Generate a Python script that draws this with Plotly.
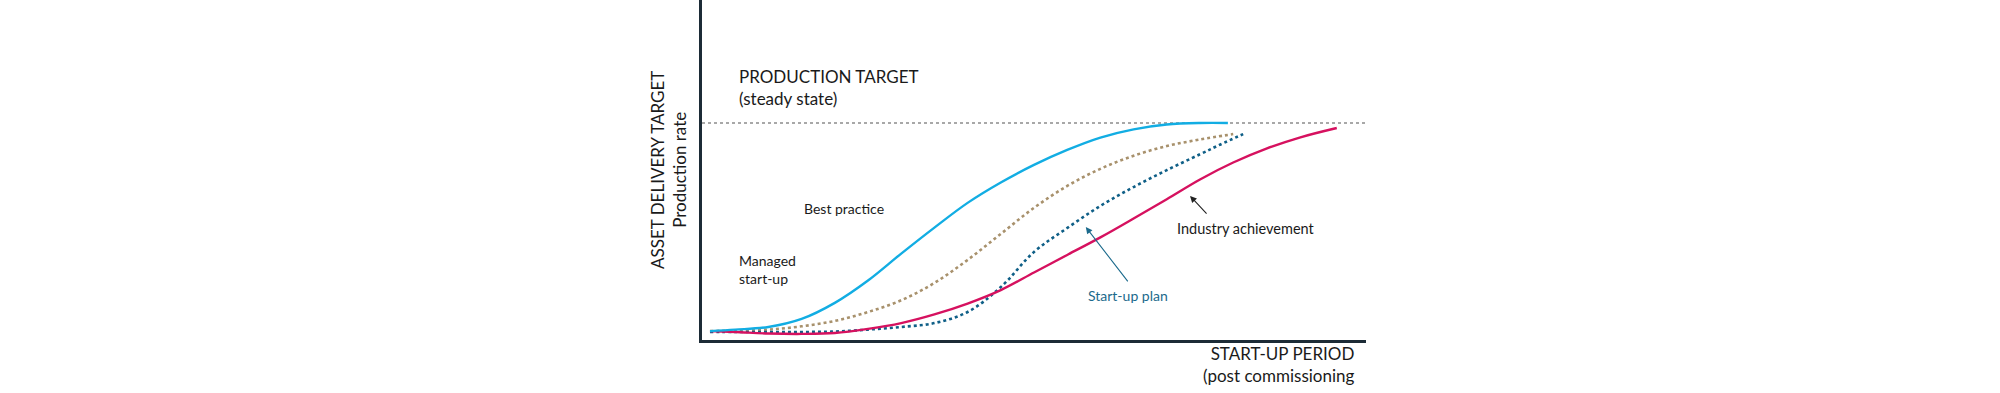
import plotly.graph_objects as go

# ---- data (start-up period in arbitrary months, production rate in % of target) ----
target_x = [0, 100]
target_y = [100, 100]

best_x = [1.2, 5, 10, 15, 20, 25, 30, 35, 40, 45, 50, 55, 60, 65, 70, 75, 79.2]
best_y = [4.1, 4.8, 6.0, 9.7, 17.1, 27.4, 39.8, 51.8, 63.2, 72.6, 80.7, 87.6, 93.3, 97.1, 99.3, 100.0, 100.0]

managed_x = [1.2, 5, 10, 15, 20, 25, 30, 35, 40, 45, 50, 55, 60, 65, 70, 75, 80]
managed_y = [4.1, 4.4, 4.8, 6.3, 8.8, 12.9, 18.3, 26.3, 36.9, 48.9, 60.9, 71.0, 78.9, 84.9, 89.4, 92.4, 94.9]

plan_x = [1.2, 5, 10, 15, 20, 25, 30, 35, 40, 45, 50, 55, 60, 65, 70, 75, 78, 81.5]
plan_y = [3.7, 3.7, 3.7, 3.7, 3.9, 4.8, 6.0, 7.8, 12.9, 24.4, 40.6, 51.6, 61.8, 70.5, 78.3, 85.6, 90.0, 94.9]

industry_x = [1.2, 5, 10, 15, 20, 25, 30, 35, 40, 45, 50, 55, 60, 65, 70, 75, 80, 85, 90, 95.6]
industry_y = [4.1, 3.7, 3.0, 2.8, 3.2, 5.1, 7.8, 11.8, 16.8, 23.0, 31.1, 39.2, 47.3, 56.0, 64.9, 74.0, 81.8, 88.2, 93.3, 97.7]

FONT = "Lato"
TXT = "#1a1a1a"

fig = go.Figure()
fig.add_trace(go.Scatter(x=target_x, y=target_y, mode="lines",
                         line=dict(color="#8c8c8c", width=1.6, dash="3px,3px"), hoverinfo="skip"))
fig.add_trace(go.Scatter(x=managed_x, y=managed_y, mode="lines", line_shape="spline",
                         line=dict(color="#a8916c", width=2.6, dash="3px,3px"), hoverinfo="skip"))
fig.add_trace(go.Scatter(x=plan_x, y=plan_y, mode="lines", line_shape="spline",
                         line=dict(color="#0f5f87", width=2.6, dash="3px,3px"), hoverinfo="skip"))
fig.add_trace(go.Scatter(x=industry_x, y=industry_y, mode="lines", line_shape="spline",
                         line=dict(color="#d6115f", width=2.4), hoverinfo="skip"))
fig.add_trace(go.Scatter(x=best_x, y=best_y, mode="lines", line_shape="spline",
                         line=dict(color="#12ade3", width=2.4), hoverinfo="skip"))

ann = []
ann.append(dict(x=5.3, y=116.4, xref="x", yref="y", text="PRODUCTION TARGET<br>(steady state)",
                showarrow=False, xanchor="left", yanchor="middle", align="left",
                font=dict(family=FONT, size=17, color=TXT)))
ann.append(dict(x=15.1, y=60.8, xref="x", yref="y", text="Best practice",
                showarrow=False, xanchor="left", yanchor="middle", align="left",
                font=dict(family=FONT, size=14, color=TXT)))
ann.append(dict(x=5.3, y=32.7, xref="x", yref="y", text="Managed<br>start-up",
                showarrow=False, xanchor="left", yanchor="middle", align="left",
                font=dict(family=FONT, size=14, color=TXT)))
ann.append(dict(x=57.8, y=20.7, xref="x", yref="y", text="Start-up plan",
                showarrow=False, xanchor="left", yanchor="middle", align="left",
                font=dict(family=FONT, size=14, color="#1b6a8c")))
ann.append(dict(x=71.2, y=51.6, xref="x", yref="y", text="Industry achievement",
                showarrow=False, xanchor="left", yanchor="middle", align="left",
                font=dict(family=FONT, size=14.5, color=TXT)))
# arrows
ann.append(dict(x=57.8, y=52.1, ax=64.3, ay=26.3, xref="x", yref="y", axref="x", ayref="y",
                text="", showarrow=True, arrowhead=2, arrowsize=1.2, arrowwidth=1.1, arrowcolor="#1b6a8c"))
ann.append(dict(x=73.5, y=66.4, ax=76.2, ay=57.6, xref="x", yref="y", axref="x", ayref="y",
                text="", showarrow=True, arrowhead=2, arrowsize=1.2, arrowwidth=1.1, arrowcolor="#222222"))
# axis titles
ann.append(dict(x=-0.0512, y=0.5, xref="paper", yref="paper", text="ASSET DELIVERY TARGET<br>Production rate",
                showarrow=False, textangle=-90, xanchor="center", yanchor="middle", align="center",
                font=dict(family=FONT, size=17, color=TXT)))
ann.append(dict(x=0.9864, y=-0.0735, xref="paper", yref="paper", text="START-UP PERIOD<br>(post commissioning",
                showarrow=False, xanchor="right", yanchor="middle", align="right",
                font=dict(family=FONT, size=17, color=TXT)))

fig.update_layout(
    width=2000, height=393,
    margin=dict(l=702, r=634, t=0, b=53),
    paper_bgcolor="white", plot_bgcolor="white",
    showlegend=False,
    annotations=ann,
    xaxis=dict(range=[0, 100], showgrid=False, zeroline=False, showticklabels=False, ticks="",
               showline=True, linecolor="#1c2b36", linewidth=3),
    yaxis=dict(range=[0, 156.7], showgrid=False, zeroline=False, showticklabels=False, ticks="",
               showline=True, linecolor="#1c2b36", linewidth=3),
)

fig.write_html("out.html", config={"displayModeBar": False},
               post_script="document.body.style.margin='0';document.body.style.overflow='hidden';")
